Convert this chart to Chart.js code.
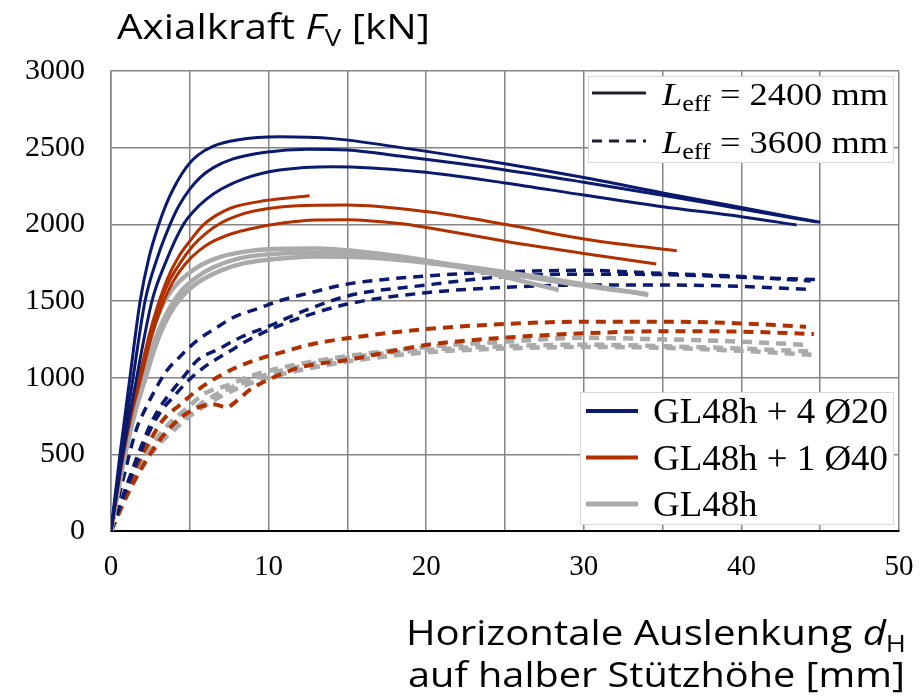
<!DOCTYPE html>
<html><head><meta charset="utf-8">
<script src="https://cdn.jsdelivr.net/npm/chart.js@4.4.0/dist/chart.umd.min.js"></script>
<style>html,body{margin:0;padding:0;background:#fff;}#wrap{width:922px;height:699px;position:relative;}</style>
</head><body><div id="wrap"><canvas id="c" width="922" height="699"></canvas></div>
<script>
// ---- axis / tick definitions ----
const xRange = [0, 50];
const yRange = [0, 3000];
const xGridStep = 5;
const xLabelStep = 10;
const yStep = 500;

// ---- texts ----
const yTitle = ['Axialkraft ', 'F', 'V', ' [kN]'];
const xTitle1 = ['Horizontale Auslenkung ', 'd', 'H'];
const xTitle2 = 'auf halber Stützhöhe [mm]';
const lengthLegend = [['2400 mm', 'solid'], ['3600 mm', 'dashed']];
const seriesNames = ['GL48h + 4 Ø20', 'GL48h + 1 Ø40', 'GL48h'];
const seriesColors = ['#0b1a6e', '#b03000', '#aaaaaa'];

// ---- data: [d_H (mm), F_V (kN)] ----
// L_eff = 2400 mm (solid)
const navySolid1 = [[0,0],[0.57,500],[1.2,1000],[1.85,1500],[2.4,1780],[3,1990],[3.5,2130],[4,2240],[4.5,2330],[5,2400],[5.5,2450],[6.5,2510],[8,2550],[10.7,2571],[14.1,2559],[18.3,2502],[25,2395],[30,2305],[35,2205],[40,2110],[45,2013]];
const navySolid2 = [[0,0],[0.65,500],[1.4,1000],[2.16,1500],[3,1800],[3.75,2000],[4.3,2120],[5,2230],[5.7,2310],[6.5,2370],[7.7,2425],[9.8,2470],[12.5,2490],[15,2485],[18.3,2445],[25,2355],[30,2275],[35,2190],[40,2100],[44.8,2015]];
const navySolid3 = [[0,0],[0.75,500],[1.63,1000],[2.6,1500],[3.5,1760],[4.6,2000],[5.2,2080],[6,2160],[7,2230],[8.5,2300],[10.7,2354],[14.1,2376],[19.6,2343],[25,2270],[30,2191],[35,2115],[40,2050],[43.5,1996]];
const orangeSolid1 = [[0,0],[0.7,480],[1.3,800],[1.8,1000],[2.4,1270],[3,1480],[3.6,1650],[4.3,1790],[5,1890],[5.8,1990],[6.7,2060],[7.7,2110],[9.8,2155],[12.6,2187]];
const orangeSolid2 = [[0,0],[0.72,480],[1.3,790],[1.82,1000],[2.45,1260],[3.05,1470],[3.7,1630],[4.4,1750],[5.2,1860],[6,1940],[7,2010],[8,2055],[9,2085],[10.9,2115],[13,2125],[15,2126],[20,2083],[25,2000],[30,1905],[35.9,1828]];
const orangeSolid3 = [[0,0],[0.75,480],[1.35,780],[1.9,1000],[2.55,1260],[3.2,1460],[3.9,1620],[4.7,1740],[5.6,1830],[6.5,1890],[7.7,1940],[8.8,1970],[11,2010],[13,2028],[15,2030],[18.3,2005],[20,1980],[25,1890],[30,1810],[34.6,1741]];
const graySolid1 = [[0,0],[0.8,500],[1.5,870],[2.1,1120],[2.7,1330],[3.3,1480],[4,1590],[4.8,1670],[5.8,1740],[7,1790],[8.5,1822],[10,1838],[13,1842],[16,1820],[20,1765],[24,1680],[28.4,1572]];
const graySolid2 = [[0,0],[0.85,500],[1.6,850],[2.3,1100],[3,1300],[3.7,1450],[4.5,1570],[5.5,1660],[6.5,1720],[8,1775],[10,1805],[12,1815],[16,1800],[20,1760],[25,1690],[30,1610],[34.1,1539]];
const graySolid3 = [[0,0],[0.9,500],[1.6,800],[2.2,1000],[2.8,1200],[3.4,1350],[4,1460],[4.6,1540],[5.5,1620],[7,1700],[8.4,1745],[9.8,1767],[13,1790],[16,1785],[20,1750],[25,1680],[30,1600],[34,1545]];
// L_eff = 3600 mm (dashed)
const navyDash1 = [[0,0],[0.8,350],[1.6,660],[2.15,790],[2.8,920],[3.5,1040],[4.4,1140],[5.5,1245],[6.6,1320],[7.9,1400],[9.3,1450],[10.8,1505],[12.5,1550],[15,1610],[20,1663],[25,1690],[30,1700],[35,1680],[40,1660],[44.4,1630]];
const navyDash2 = [[0,0],[1,300],[2.35,660],[3,790],[3.8,905],[4.6,1005],[5.5,1115],[6.8,1185],[8.3,1267],[10,1335],[11.2,1390],[12.5,1445],[15,1533],[20,1604],[25,1659],[30,1675],[35,1672],[40,1655],[44.8,1640]];
const navyDash3 = [[0,0],[1,280],[2.4,640],[3.1,770],[4,880],[5,990],[6,1075],[7.5,1170],[8.8,1250],[11.2,1360],[15,1480],[20,1554],[25,1589],[30,1604],[35,1604],[40,1595],[44.2,1576]];
const orangeDash1 = [[0,0],[1,270],[1.93,485],[2.56,605],[3.3,724],[4.36,822],[5.5,920],[6.8,1006],[8.06,1072],[9.5,1126],[11,1170],[12.5,1213],[15,1257],[20,1317],[25,1350],[30,1365],[35,1365],[40,1354],[44.1,1332]];
const orangeDash2 = [[0,0],[1,230],[2,420],[3,580],[4,700],[5,780],[6,820],[6.6,825],[7.3,806],[8,850],[8.8,920],[10.4,1006],[12.1,1070],[15,1115],[20,1213],[25,1261],[30,1289],[35,1303],[40,1300],[44.6,1285]];
const grayDash1 = [[0,0],[1,280],[1.9,485],[2.7,580],[3.6,690],[4.7,790],[6,900],[7.4,950],[8.7,1005],[10.2,1050],[12,1090],[15,1140],[20,1200],[25,1235],[30,1260],[35,1250],[40,1235],[44.3,1213]];
const grayDash2 = [[0,0],[1,250],[2,450],[3,580],[4,690],[5,770],[6,850],[7.5,930],[9,990],[11,1050],[15,1130],[20,1180],[25,1205],[30,1215],[35,1205],[40,1190],[44.5,1170]];
const grayDash3 = [[0,0],[1,230],[2,420],[3,560],[4,660],[5,750],[6,820],[7,880],[8.5,950],[10,1000],[13,1070],[16,1120],[20,1165],[25,1190],[30,1200],[35,1195],[40,1175],[44.6,1148]];

function ds(points, colorIdx, dashed, width) {
  return {
    data: points.map(p => ({x: p[0], y: p[1]})),
    borderColor: seriesColors[colorIdx],
    borderWidth: width,
    borderDash: dashed ? [10, 7] : [],
    pointRadius: 0,
    showLine: true,
    fill: false,
    cubicInterpolationMode: 'monotone',
    borderCapStyle: 'butt'
  };
}

// dataset 0 is drawn on top
const datasets = [
  ds(navySolid1, 0, false, 3), ds(navySolid2, 0, false, 3), ds(navySolid3, 0, false, 3),
  ds(orangeSolid1, 1, false, 3), ds(orangeSolid2, 1, false, 3), ds(orangeSolid3, 1, false, 3),
  ds(graySolid1, 2, false, 4.5), ds(graySolid2, 2, false, 4.5), ds(graySolid3, 2, false, 4.5),
  ds(navyDash1, 0, true, 3.5), ds(navyDash2, 0, true, 3.5), ds(navyDash3, 0, true, 3.5),
  ds(orangeDash1, 1, true, 4), ds(orangeDash2, 1, true, 4),
  ds(grayDash1, 2, true, 4.5), ds(grayDash2, 2, true, 4.5), ds(grayDash3, 2, true, 4.5)
];

const SANS = '"Open Sans", "Noto Sans", sans-serif';
const SERIF = '"Liberation Serif", "DejaVu Serif", serif';

function fontOf(p, size, family) {
  return (p.italic ? 'italic ' : '') + (size * (p.sub ? (p.subScale || 0.68) : 1)) + 'px ' + family;
}
function partsWidth(ctx, parts, size, family) {
  let w = 0;
  parts.forEach(p => { ctx.font = fontOf(p, size, family); w += ctx.measureText(p.t).width; });
  return w;
}
// draw a run of text parts with a horizontal scale factor
function drawPartsScaled(ctx, parts, x, y, size, family, align, sx) {
  const w = partsWidth(ctx, parts, size, family);
  const startX = align === 'right' ? x - w * sx : x;
  ctx.save();
  ctx.translate(startX, y);
  ctx.scale(sx, 1);
  let cx = 0;
  parts.forEach(p => {
    ctx.font = fontOf(p, size, family);
    ctx.fillText(p.t, cx, p.sub ? size * 0.2 : 0);
    cx += ctx.measureText(p.t).width;
  });
  ctx.restore();
}
function drawParts(ctx, parts, x, y, size, family, align, targetW) {
  const w = partsWidth(ctx, parts, size, family);
  drawPartsScaled(ctx, parts, x, y, size, family, align, targetW ? targetW / w : 1);
}

const textPlugin = {
  id: 'texts',
  afterDraw(chart) {
    const ctx = chart.ctx;
    ctx.save();
    ctx.fillStyle = '#000';
    ctx.textBaseline = 'alphabetic';
    ctx.textAlign = 'left';
    // y title
    const yt = [{t: yTitle[0]}, {t: yTitle[1], italic: true}, {t: yTitle[2], sub: true}, {t: yTitle[3]}];
    drawParts(ctx, yt, 117, 39, 35, SANS, 'left', 313);
    // x title
    const xt1 = [{t: xTitle1[0]}, {t: xTitle1[1], italic: true}, {t: xTitle1[2], sub: true}];
    drawParts(ctx, xt1, 906, 645, 35, SANS, 'right', 500);
    drawParts(ctx, [{t: xTitle2}], 905, 687, 35, SANS, 'right', 497);

    // legend boxes
    ctx.fillStyle = '#fff';
    ctx.strokeStyle = '#d9d9d9';
    ctx.lineWidth = 1;
    ctx.fillRect(588, 76, 305, 86); ctx.strokeRect(588.5, 76.5, 305, 86);
    ctx.fillRect(580, 392, 313, 132); ctx.strokeRect(580.5, 392.5, 313, 132);

    // length legend
    lengthLegend.forEach((item, i) => {
      const ly = 93 + i * 48;
      ctx.strokeStyle = '#1c2030';
      ctx.lineWidth = 3;
      ctx.setLineDash(item[1] === 'dashed' ? [10, 7] : []);
      ctx.beginPath(); ctx.moveTo(592, ly); ctx.lineTo(646, ly); ctx.stroke();
      ctx.setLineDash([]);
      ctx.fillStyle = '#000';
      drawParts(ctx, [{t: 'L', italic: true}, {t: 'eff', sub: true, subScale: 0.72}, {t: ' = ' + item[0]}], 662, ly + 12, 31, SERIF, 'left', 226);
    });
    // series legend (common horizontal scale from first entry)
    const legSx = 235 / partsWidth(ctx, [{t: seriesNames[0]}], 35, SERIF);
    seriesNames.forEach((name, i) => {
      const ly = 411 + i * 46.5;
      ctx.strokeStyle = seriesColors[i];
      ctx.lineWidth = i === 2 ? 5 : 4;
      ctx.beginPath(); ctx.moveTo(586, ly); ctx.lineTo(638, ly); ctx.stroke();
      ctx.fillStyle = '#000';
      drawPartsScaled(ctx, [{t: name}], 653, ly + 12, 35, SERIF, 'left', legSx);
    });
    ctx.restore();
  }
};

new Chart(document.getElementById('c'), {
  type: 'scatter',
  data: { datasets },
  options: {
    responsive: false,
    animation: false,
    devicePixelRatio: 1,
    layout: { padding: { left: 0, top: 71, right: 23, bottom: 0 } },
    plugins: { legend: { display: false }, tooltip: { enabled: false } },
    scales: {
      x: {
        type: 'linear', min: xRange[0], max: xRange[1],
        afterFit(s) { s.height = 168; s.paddingRight = 0; s.paddingLeft = 0; },
        grid: { color: '#858585', lineWidth: 1.5, drawTicks: false },
        border: { color: '#000', width: 2 },
        ticks: {
          stepSize: xGridStep, padding: 19, color: '#000',
          font: { family: SERIF, size: 29 },
          callback: v => (v % xLabelStep === 0 ? String(v) : '')
        }
      },
      y: {
        type: 'linear', min: yRange[0], max: yRange[1],
        afterFit(s) { s.width = 111; s.paddingTop = 0; s.paddingBottom = 0; },
        grid: { color: '#858585', lineWidth: 1.5, drawTicks: false },
        border: { color: '#858585', width: 1.5 },
        ticks: { stepSize: yStep, padding: 26, color: '#000', font: { family: SERIF, size: 30 }, callback: v => String(v) }
      }
    }
  },
  plugins: [textPlugin]
});
</script></body></html>
